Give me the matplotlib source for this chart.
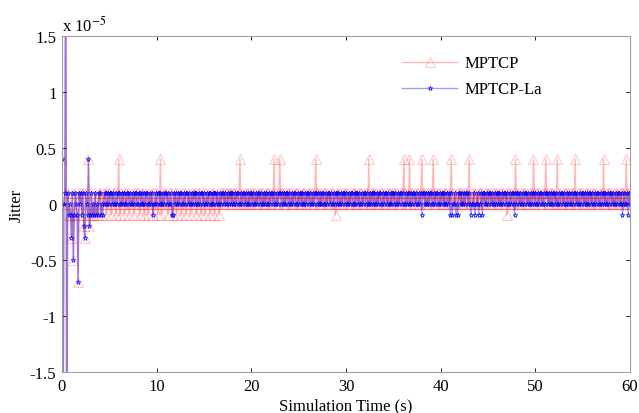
import matplotlib as mpl
mpl.use('Agg')
import matplotlib.pyplot as plt
import numpy as np

# sample step of the traces (s)
dt = 0.1

# jitter codes, one char per sample, values in units of 1e-5
code_vals = {'0': 0.0, '1': 0.1, 'm': -0.1, '4': 0.4, 'a': -0.2, 'b': -0.3,
             'c': -0.5, 'd': -0.7, 'U': 3.0, 'D': -3.0}

# first 4 s, same for both protocols
start = ["4D01UD1m0m", "b1cm10md10", "1m1ab10m4a", "m1m0m1m0m1"]

# one 10-char block per second, from t = 4 s
mptcp_blocks = [
    "1m01011m01", "10m0110m01", "4m1001m010", "1m0010m101", "10m0110m01",
    "0m1001m010", "1m004m0101", "10m0110m01", "0m1001m010", "1m0010m101",
    "10m0110m01", "0m1001m010", "1m0010m101", "1001101101", "0110100140",
    "1001011001", "0110100101", "1010010110", "1001401001", "4110100101",
    "1010010110", "1001011001", "0110100141", "1010010110", "100101100m",
    "0110100101", "1010010110", "1001011001", "0110400101", "1010010110",
    "1001011001", "0110100101", "1410010401", "1001011001", "4110100101",
    "1041010110", "1001011001", "0410100101", "1010010110", "4001011001",
    "0110100101", "1010010110", "1001011001", "m110100104", "1010010110",
    "1001011041", "0110100101", "1410010110", "1004011001", "0110100101",
    "1040010110", "1001011001", "0110100101", "1040010110", "1001011001",
    "0110104101", "0",
]

mptcp_la_blocks = [
    "1m0m011001", "0110100101", "1001011001", "1010010110", "0110100101",
    "100101m001", "0110100101", "101001mm10", "1001011001", "0110100101",
    "1010010110", "1001011001", "0110100101", "1010010110", "1001011001",
    "0110100101", "1010010110", "1001011001", "0110100101", "1010010110",
    "1001011001", "0110100101", "1010010110", "1001011001", "0110100101",
    "1010010110", "1001011001", "0110100101", "1010010110", "1001011001",
    "0110100101", "1010010110", "1001011001", "0110100101", "m110100101",
    "1001011001", "0110100101", "m1m001m0m1", "1010010110", "10m001m001",
    "m001m11001", "0110100101", "1010010110", "10010110m1", "0110100101",
    "1010010110", "1001011001", "0110100101", "1010010110", "1001011001",
    "0110100101", "1010010110", "1001011001", "0110100101", "1010010110",
    "01m01001m1", "0",
]

def decode(blocks):
    s = "".join(start + blocks)
    return np.array([code_vals[c] for c in s])

y_mptcp = decode(mptcp_blocks)
y_la = decode(mptcp_la_blocks)
t_mptcp = np.arange(len(y_mptcp)) * dt
t_la = np.arange(len(y_la)) * dt

plt.rcParams['font.family'] = ['Liberation Serif', 'DejaVu Serif']
plt.rcParams['mathtext.fontset'] = 'stix'
plt.rcParams['font.size'] = 12

fig = plt.figure(figsize=(6.39, 4.14), dpi=100)
ax = fig.add_axes([0.097, 0.099, 0.889, 0.812])

ax.plot(t_mptcp, y_mptcp, ls='-', lw=1.0, color=(1, 0, 0, 0.28),
        marker='^', ms=7, mfc='none', mec=(1, 0.3, 0.3, 0.3), mew=0.8,
        label='MPTCP')
ax.plot(t_la, y_la, ls='-', lw=1.0, color=(0, 0, 1, 0.38),
        marker='*', ms=3.5, mfc='none', mec=(0, 0, 1, 0.9), mew=0.5,
        label='MPTCP-La')

ax.set_xlim(0, 60)
ax.set_ylim(-1.5, 1.5)
ax.set_xticks(range(0, 61, 10))
ax.set_yticks([-1.5, -1, -0.5, 0, 0.5, 1, 1.5])
ax.set_yticklabels(['-1.5', '-1', '-0.5', '0', '0.5', '1', '1.5'])
ax.tick_params(direction='in', length=3, width=0.6, top=True, right=True,
               labelsize=12, pad=4)
for sp in ax.spines.values():
    sp.set_color('#a0a0a0')
    sp.set_linewidth(0.8)

ax.set_xlabel('Simulation Time (s)', fontsize=12, labelpad=3)
ax.set_ylabel('Jitter', fontsize=12, labelpad=4)
fig.text(0.097, 0.923, r'x 10$^{-5}$', fontsize=12, ha='left', va='baseline')

leg = ax.legend(loc='upper left', bbox_to_anchor=(0.606, 0.9), bbox_transform=fig.transFigure,
                frameon=False, numpoints=1, handlelength=3.3, handletextpad=0.45,
                labelspacing=0.6, fontsize=12)

fig.savefig('out.png', dpi=100)
